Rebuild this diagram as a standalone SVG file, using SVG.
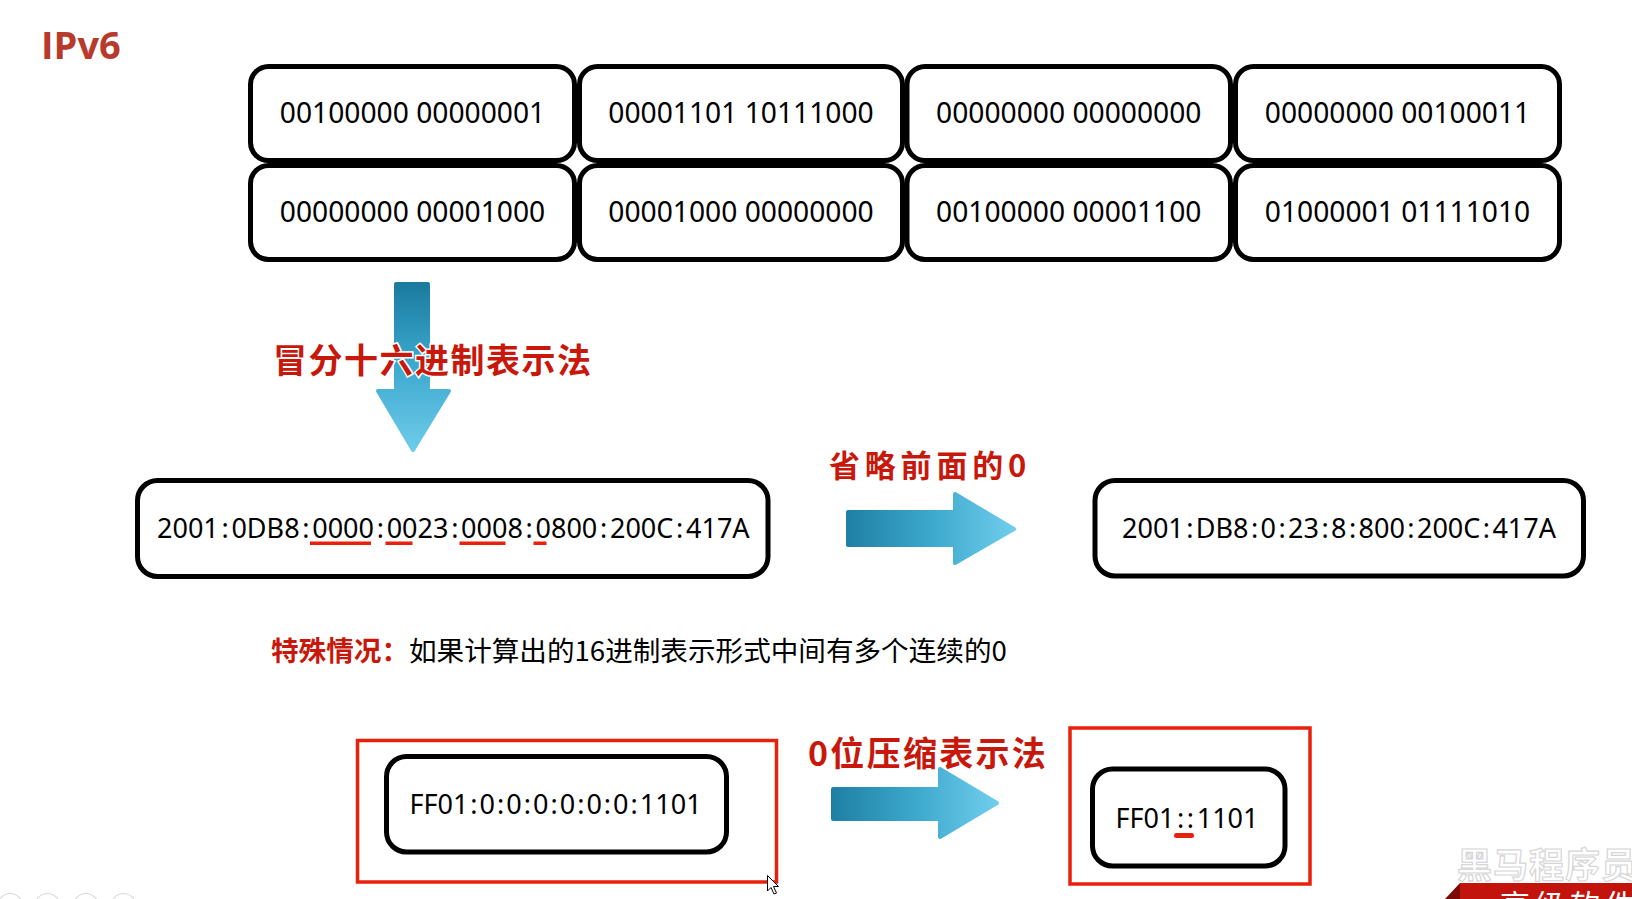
<svg xmlns="http://www.w3.org/2000/svg" width="1632" height="899" viewBox="0 0 1632 899">
<style>
.box{fill:#fff;stroke:#000;stroke-width:5}
.t{font-family:"Noto Sans","Open Sans","Liberation Sans",sans-serif;font-size:27px;fill:#000}
.tb{font-size:28.2px}
.lbl{font-family:"Noto Sans CJK SC","Noto Sans",sans-serif;font-weight:bold;fill:#c8180c}
.cn{font-family:"Noto Sans CJK SC","Noto Sans",sans-serif;font-size:27.6px}
.ul{fill:#e8200c}
.red{fill:none;stroke:#e8200c;stroke-width:3.5}
</style>
<defs>
<linearGradient id="gd" x1="0" y1="0" x2="0" y2="1">
<stop offset="0" stop-color="#1b7b9f"/>
<stop offset="0.45" stop-color="#39a6cc"/>
<stop offset="1" stop-color="#6ecbea"/>
</linearGradient>
<linearGradient id="gr" x1="0" y1="0" x2="1" y2="0">
<stop offset="0" stop-color="#1f80a4"/>
<stop offset="0.5" stop-color="#3ca8cd"/>
<stop offset="1" stop-color="#70cdec"/>
</linearGradient>
</defs>
<rect width="1632" height="899" fill="#fff"/>

<text id="title" x="41" y="58.5" font-family="'Open Sans','Noto Sans',sans-serif" font-weight="bold" font-size="38" fill="#b83a2c">IPv6</text>

<g id="bin-grid">
<g id="b1"><rect class="box" x="250.5" y="66.5" width="324" height="94" rx="18"/><text class="t tb" x="412.5" y="122.5" text-anchor="middle">00100000 00000001</text></g>
<g id="b2"><rect class="box" x="579.5" y="66.5" width="323" height="94" rx="18"/><text class="t tb" x="741" y="122.5" text-anchor="middle">00001101 10111000</text></g>
<g id="b3"><rect class="box" x="907" y="66.5" width="323.5" height="94" rx="18"/><text class="t tb" x="1068.75" y="122.5" text-anchor="middle">00000000 00000000</text></g>
<g id="b4"><rect class="box" x="1235.5" y="66.5" width="324" height="94" rx="18"/><text class="t tb" x="1397.5" y="122.5" text-anchor="middle">00000000 00100011</text></g>
<g id="b5"><rect class="box" x="250.5" y="165.5" width="324" height="94" rx="18"/><text class="t tb" x="412.5" y="221.5" text-anchor="middle">00000000 00001000</text></g>
<g id="b6"><rect class="box" x="579.5" y="165.5" width="323" height="94" rx="18"/><text class="t tb" x="741" y="221.5" text-anchor="middle">00001000 00000000</text></g>
<g id="b7"><rect class="box" x="907" y="165.5" width="323.5" height="94" rx="18"/><text class="t tb" x="1068.75" y="221.5" text-anchor="middle">00100000 00001100</text></g>
<g id="b8"><rect class="box" x="1235.5" y="165.5" width="324" height="94" rx="18"/><text class="t tb" x="1397.5" y="221.5" text-anchor="middle">01000001 01111010</text></g>
</g>

<g id="connectors">
<path d="M396,284 H428 V391 H449 L413,450 L378,391 H396 Z" fill="url(#gd)" stroke="url(#gd)" stroke-width="4" stroke-linejoin="round"/>
<path d="M848,512 H955 V494 L1014,529 L955,563 V545 H848 Z" fill="url(#gr)" stroke="url(#gr)" stroke-width="4" stroke-linejoin="round"/>
<path d="M833,789 H940 V769 L997,803 L940,837 V819 H833 Z" fill="url(#gr)" stroke="url(#gr)" stroke-width="4" stroke-linejoin="round"/>
</g>

<text id="lbl-colon-hex" class="lbl" x="273" y="373" font-size="34" letter-spacing="1.5" stroke="#fff" stroke-width="3" paint-order="stroke">冒分十六进制表示法</text>
<text id="lbl-omit" class="lbl" x="829" y="476.5" font-size="31" letter-spacing="4.8">省略前面的0</text>
<text id="lbl-zero" class="lbl" x="808" y="766" font-size="34" letter-spacing="2.3">0位压缩表示法</text>

<g id="hex-full">
<rect class="box" x="137.5" y="480.5" width="630.5" height="96" rx="20"/>
<text class="t" x="157" y="537.5">2001<tspan dx="2.7">:</tspan><tspan dx="2.7">0DB8</tspan><tspan dx="2.7">:</tspan><tspan dx="2.7">0000</tspan><tspan dx="2.7">:</tspan><tspan dx="2.7">0023</tspan><tspan dx="2.7">:</tspan><tspan dx="2.7">0008</tspan><tspan dx="2.7">:</tspan><tspan dx="2.7">0800</tspan><tspan dx="2.7">:</tspan><tspan dx="2.7">200C</tspan><tspan dx="2.7">:</tspan><tspan dx="2.7">417A</tspan></text>
<rect class="ul" x="310" y="541.5" width="61" height="3.5"/>
<rect class="ul" x="385.5" y="541.5" width="27" height="3.5"/>
<rect class="ul" x="459.5" y="541.5" width="46" height="3.5"/>
<rect class="ul" x="533.5" y="541.5" width="13" height="3.5"/>
</g>

<g id="hex-short">
<rect class="box" x="1095" y="480.5" width="488.5" height="95.5" rx="20"/>
<text class="t" x="1339" y="537.5" text-anchor="middle">2001<tspan dx="2.4">:</tspan><tspan dx="2.4">DB8</tspan><tspan dx="2.4">:</tspan><tspan dx="2.4">0</tspan><tspan dx="2.4">:</tspan><tspan dx="2.4">23</tspan><tspan dx="2.4">:</tspan><tspan dx="2.4">8</tspan><tspan dx="2.4">:</tspan><tspan dx="2.4">800</tspan><tspan dx="2.4">:</tspan><tspan dx="2.4">200C</tspan><tspan dx="2.4">:</tspan><tspan dx="2.4">417A</tspan></text>
</g>

<text id="special" class="cn" x="271" y="661"><tspan font-weight="bold" fill="#c8180c">特殊情况：</tspan><tspan fill="#000">如果计算出的16进制表示形式中间有多个连续的0</tspan></text>

<g id="zero-full">
<rect class="red" x="357.5" y="740.5" width="419" height="141.5"/>
<rect class="box" x="386.5" y="756.5" width="340" height="95.5" rx="20"/>
<text class="t" x="555.5" y="813.5" text-anchor="middle">FF01<tspan dx="2">:</tspan><tspan dx="2">0</tspan><tspan dx="2">:</tspan><tspan dx="2">0</tspan><tspan dx="2">:</tspan><tspan dx="2">0</tspan><tspan dx="2">:</tspan><tspan dx="2">0</tspan><tspan dx="2">:</tspan><tspan dx="2">0</tspan><tspan dx="2">:</tspan><tspan dx="2">0</tspan><tspan dx="2">:</tspan><tspan dx="2">1101</tspan></text>
</g>

<g id="zero-short">
<rect class="red" x="1070" y="728" width="240" height="156"/>
<rect class="box" x="1092.5" y="769" width="192.5" height="97" rx="20"/>
<text class="t" x="1187" y="827.5" text-anchor="middle">FF01<tspan dx="2.6">:</tspan><tspan dx="2.6">:</tspan><tspan dx="2.6">1101</tspan></text>
<rect class="ul" x="1174" y="833" width="20" height="5" rx="2.5"/>
</g>

<path id="cursor" d="M767.5,875.5 V891 L771,887.5 L774,894 L776.5,893 L773.5,886.5 L778.5,886.5 Z" fill="#fff" stroke="#000" stroke-width="1" stroke-linejoin="round"/>

<g id="slide-controls" fill="none" stroke="#d8d8d8" stroke-width="1.2">
<circle cx="10" cy="906" r="12.5"/>
<circle cx="47.5" cy="906" r="12.5"/>
<circle cx="86" cy="906" r="12.5"/>
<circle cx="123.5" cy="906" r="12.5"/>
</g>

<g id="watermark">
<text x="1457" y="878" font-family="'Noto Sans CJK SC',sans-serif" font-weight="bold" font-size="35" fill="#fff" stroke="#d6d6d6" stroke-width="1.2" letter-spacing="1">黑马程序员</text>
<polygon points="1445,899 1460,883 1460,899" fill="#7a0a06"/>
<rect x="1460" y="883" width="172" height="16" fill="#c2140c"/>
<text x="1500" y="916" font-family="'Noto Sans CJK SC',sans-serif" font-size="30" fill="#fff" letter-spacing="5">高级软件</text>
</g>
</svg>
